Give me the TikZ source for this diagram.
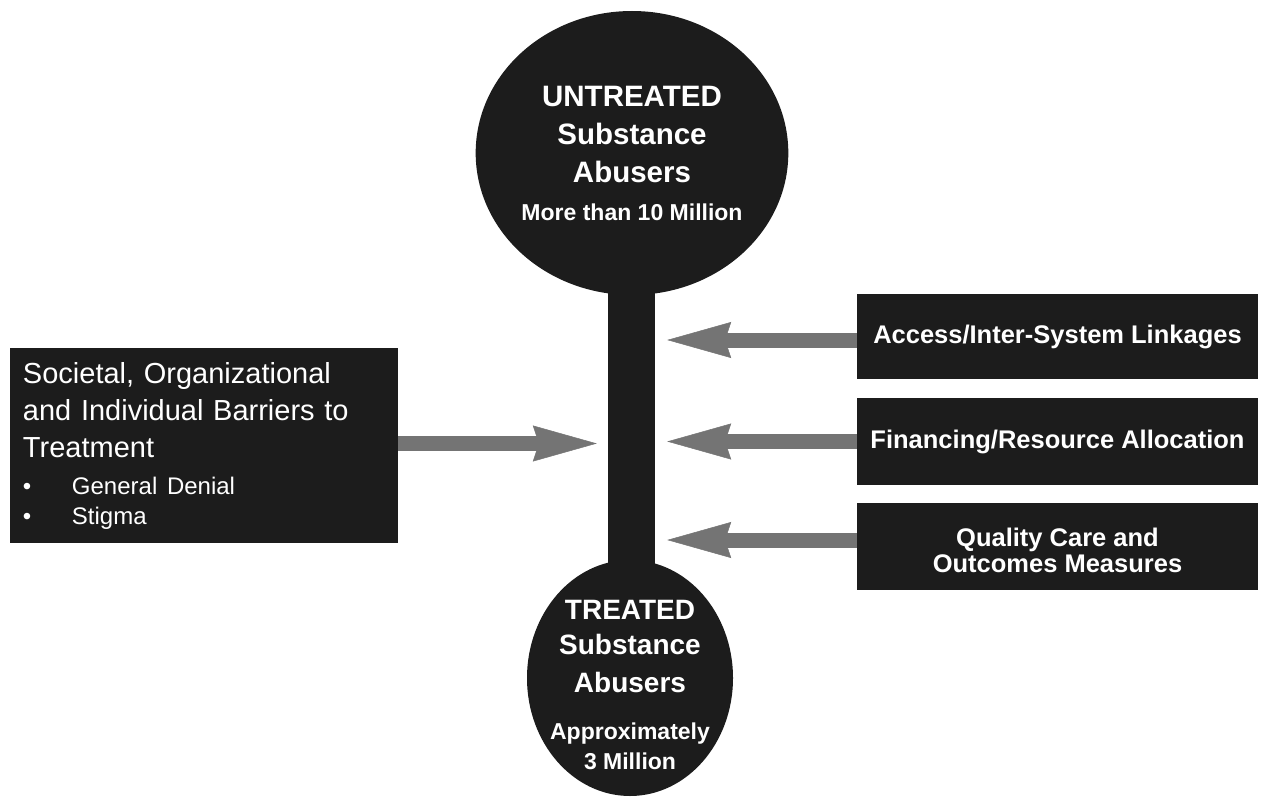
\documentclass[tikz,border=0pt]{standalone}
\usepackage{fontspec}
\setmainfont{Liberation Sans}
\usetikzlibrary{shapes.geometric,arrows.meta,calc}
\definecolor{ink}{HTML}{1C1C1C}
\definecolor{arrowgray}{HTML}{747474}
\begin{document}
\begin{tikzpicture}[x=1pt,y=-1pt,
  darkbox/.style={rectangle, fill=ink, text=white, inner sep=0pt},
  blob/.style={ellipse, fill=ink, text=white, inner sep=0pt, align=center},
  sidebox/.style={darkbox, minimum width=401pt, align=center, font=\bfseries\fontsize{25.5}{25.5}\selectfont},
  fat/.style={draw=arrowgray, line width=15pt, -{Stealth[length=64pt,width=36pt,inset=6pt,line width=0.5pt]}}
]
\useasboundingbox (0,0) rectangle (1261,797);

% stem
\node[darkbox, minimum width=47pt, minimum height=300pt] (stem) at (631.5,428) {};

% circles
\node[blob, minimum width=250pt, minimum height=284pt, font=\bfseries\fontsize{29.5}{38}\selectfont] (top) at (632,153)
  {UNTREATED\\Substance\\Abusers\\\fontsize{23}{40}\selectfont More than 10 Million};
\node[blob, minimum width=206pt, minimum height=236pt] (bot) at (630,678) {};
\node[text=white, inner sep=0pt, align=center, font=\bfseries\fontsize{28}{35}\selectfont] (botlabel) at ([yshift=-7pt]bot.center)
  {TREATED\\Substance\\[3pt]Abusers\\[12pt]\fontsize{23}{30}\selectfont Approximately\\[-5pt]\fontsize{23}{30}\selectfont 3 Million};

% left box
\node[darkbox, minimum width=388pt, minimum height=195pt, text width=362pt, inner xsep=13pt, align=left, font=\fontsize{29}{37}\selectfont] (lb) at (204,445.5)
  {Societal, Organizational\\and Individual Barriers to\\Treatment\\\fontsize{24}{37}\selectfont\makebox[49pt][l]{\textbullet}General Denial\\[-7pt]\fontsize{24}{30}\selectfont\makebox[49pt][l]{\textbullet}Stigma};

% right boxes
\node[sidebox, minimum height=85pt] (b1) at (1057.5,336.5) {Access/Inter-System Linkages};
\node[sidebox, minimum height=87pt] (b2) at (1057.5,441.5) {Financing/Resource Allocation};
\node[sidebox, minimum height=87pt, text height=51pt, text depth=0pt] (b3) at (1057.5,546.5) {Quality Care and\\Outcomes Measures};

% arrows
\draw[fat, shorten >=11pt] ([yshift=2pt]lb.east) -- ([yshift=2pt]lb.east -| stem.west);
\draw[fat, shorten >=12pt] ([yshift=-3.5pt]b1.west) -- ([yshift=-3.5pt]b1.west -| stem.east);
\draw[fat, shorten >=12pt] (b2.west) -- (b2.west -| stem.east);
\draw[fat, shorten >=12pt] ([yshift=6.5pt]b3.west) -- ([yshift=6.5pt]b3.west -| stem.east);
\end{tikzpicture}
\end{document}
